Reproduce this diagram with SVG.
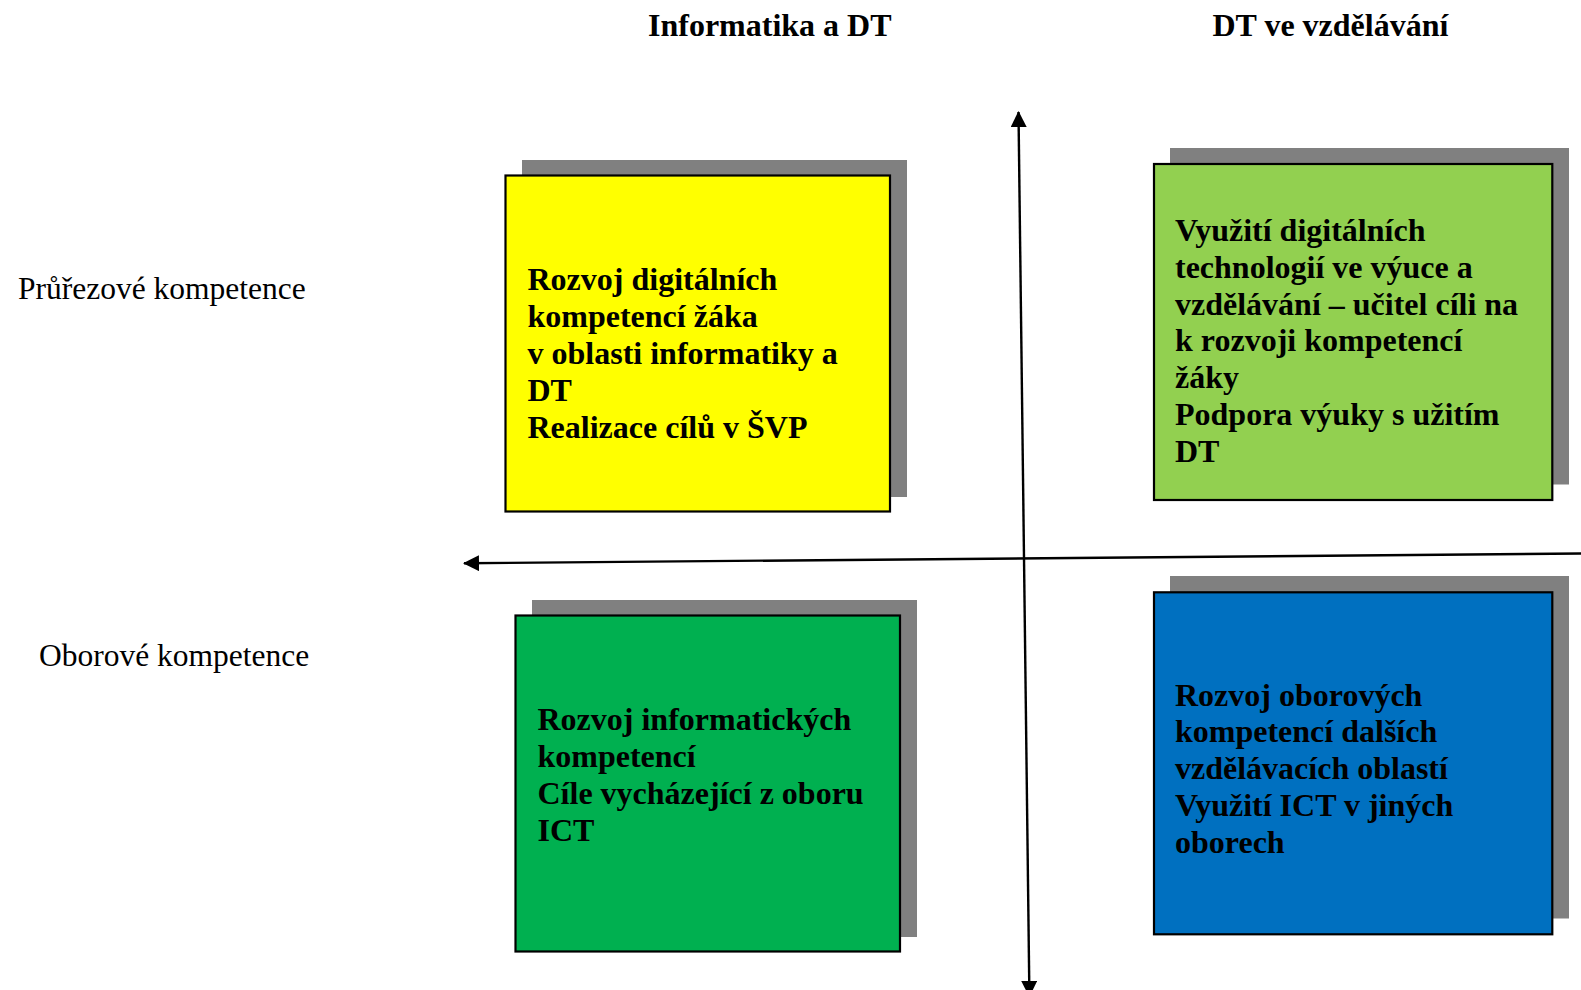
<svg xmlns="http://www.w3.org/2000/svg" width="1581" height="990" viewBox="0 0 1581 990">
<defs>
<style>
.shadow{fill:#808080;}
.box{stroke:#000;stroke-width:2.2;}
.t{font-family:"Liberation Serif","Times New Roman",serif;font-size:31.5px;fill:#000;}
.b{font-weight:bold;font-size:32px;}
.axis{fill:none;stroke:#000;stroke-width:2.4;}
</style>
<marker id="ah" viewBox="0 0 16 16" refX="15" refY="8" markerWidth="16" markerHeight="16" markerUnits="userSpaceOnUse" orient="auto-start-reverse">
<path d="M0,0 L16,8 L0,16 z" fill="#000"/>
</marker>
</defs>
<rect width="1581" height="990" fill="#fff"/>
<g id="headers">
<text class="t b" x="648" y="35.5">Informatika a DT</text>
<text class="t b" x="1212.5" y="35.5">DT ve vzdělávání</text>
</g>
<g id="row-labels">
<text class="t" x="18" y="298.5">Průřezové kompetence</text>
<text class="t" x="39" y="665.5">Oborové kompetence</text>
</g>
<g id="connectors">
<path class="axis" d="M1029.4,996 L1018.5,112" marker-start="url(#ah)" marker-end="url(#ah)"/>
<path class="axis" d="M1581,553.5 L464,563.3" marker-end="url(#ah)"/>
</g>
<g id="node-yellow">
<rect class="shadow" x="522" y="160" width="385" height="337"/>
<rect class="box" x="505.5" y="175.5" width="384.5" height="336" fill="#FFFF00"/>
<text class="t b" x="527.5" y="289.8">Rozvoj digitálních</text>
<text class="t b" x="527.5" y="326.8">kompetencí žáka</text>
<text class="t b" x="527.5" y="363.8">v oblasti informatiky a</text>
<text class="t b" x="527.5" y="400.8">DT</text>
<text class="t b" x="527.5" y="437.8">Realizace cílů v ŠVP</text>
</g>
<g id="node-lightgreen">
<rect class="shadow" x="1170" y="148" width="399" height="336.5"/>
<rect class="box" x="1154" y="164" width="398.3" height="336" fill="#92D050"/>
<text class="t b" x="1175" y="241">Využití digitálních</text>
<text class="t b" x="1175" y="277.8">technologií ve výuce a</text>
<text class="t b" x="1175" y="314.6">vzdělávání – učitel cíli na</text>
<text class="t b" x="1175" y="351.4">k rozvoji kompetencí</text>
<text class="t b" x="1175" y="388.2">žáky</text>
<text class="t b" x="1175" y="425">Podpora výuky s užitím</text>
<text class="t b" x="1175" y="461.8">DT</text>
</g>
<g id="node-green">
<rect class="shadow" x="532" y="600" width="385" height="337"/>
<rect class="box" x="515.5" y="615.5" width="384.5" height="336" fill="#00B050"/>
<text class="t b" x="537.5" y="729.8">Rozvoj informatických</text>
<text class="t b" x="537.5" y="766.8">kompetencí</text>
<text class="t b" x="537.5" y="803.8">Cíle vycházející z oboru</text>
<text class="t b" x="537.5" y="840.8">ICT</text>
</g>
<g id="node-blue">
<rect class="shadow" x="1170" y="576" width="399" height="342.5"/>
<rect class="box" x="1154" y="592.3" width="398.3" height="342" fill="#0070C0"/>
<text class="t b" x="1175" y="705.5">Rozvoj oborových</text>
<text class="t b" x="1175" y="742.3">kompetencí dalších</text>
<text class="t b" x="1175" y="779.1">vzdělávacích oblastí</text>
<text class="t b" x="1175" y="815.9">Využití ICT v jiných</text>
<text class="t b" x="1175" y="852.7">oborech</text>
</g>
</svg>
